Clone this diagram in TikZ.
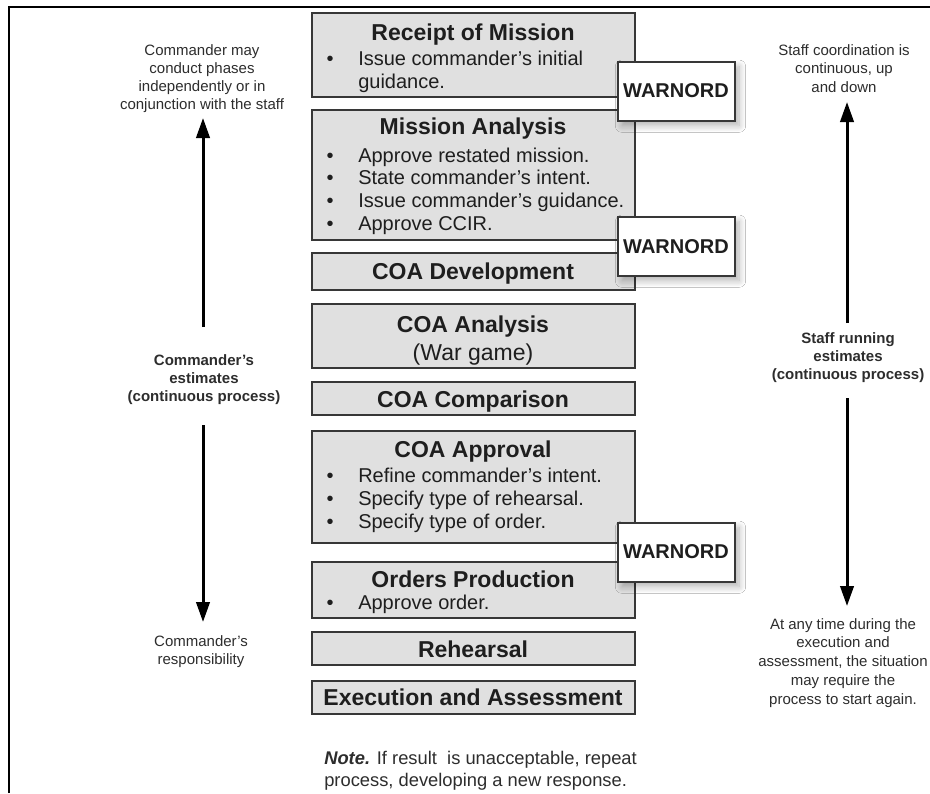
\documentclass[tikz,border=0pt]{standalone}
\usepackage{fontspec}
\setmainfont{Liberation Sans}
\usetikzlibrary{fit,arrows.meta,shadows.blur}
\definecolor{boxfill}{RGB}{224,224,224}
\definecolor{boxline}{RGB}{55,55,55}
\definecolor{txt}{RGB}{30,30,30}
\definecolor{sidetxt}{RGB}{45,45,45}
\begin{document}
\begin{tikzpicture}[x=0.75pt,y=-0.75pt,
  pbox/.style={draw=boxline, line width=1.5pt, fill=boxfill, inner sep=0pt},
  wbox/.style={draw=boxline, line width=1.5pt, fill=white, inner sep=0pt,
    blur shadow={shadow xshift=3pt, shadow yshift=-3.5pt, shadow blur radius=5pt, shadow blur steps=8, shadow opacity=30}},
  ttl/.style={font=\fontsize{17.25}{20}\selectfont\bfseries, text=txt, anchor=base, inner sep=0pt},
  sub/.style={font=\fontsize{17.25}{20}\selectfont, text=txt, anchor=base, inner sep=0pt},
  itm/.style={font=\fontsize{15}{18}\selectfont, text=txt, anchor=base west, inner sep=0pt},
  bul/.style={font=\fontsize{15}{18}\selectfont, text=txt, anchor=base, inner sep=0pt},
  wtxt/.style={font=\fontsize{15}{18}\selectfont\bfseries, text=txt, anchor=base, inner sep=0pt},
  side/.style={font=\fontsize{11.25}{13.9}\selectfont, text=sidetxt, anchor=base, inner sep=0pt},
  sideb/.style={font=\fontsize{11.25}{13.9}\selectfont\bfseries, text=sidetxt, anchor=base, inner sep=0pt},
  note/.style={font=\fontsize{13.75}{16.5}\selectfont, text=sidetxt, anchor=base west, inner sep=0pt},
  bigarrow/.style={line width=2.25pt, draw=black, -{Triangle[length=15pt,width=10pt]}}]
\useasboundingbox (0,0) rectangle (930,793);
\fill[white] (0,0) rectangle (930,793);
% frame
\draw[line width=1.8pt, line join=miter] (9,793) -- (9,7) -- (930,7);

% process boxes
\node[pbox, fit={(312,13) (635,97)}] (rec) {};
\node[pbox, fit={(312,110) (635,240)}] (man) {};
\node[pbox, fit={(312,253) (635,290)}] (dev) {};
\node[pbox, fit={(312,304) (635,368)}] (ana) {};
\node[pbox, fit={(312,382) (635,415)}] (cmp) {};
\node[pbox, fit={(312,431) (635,543)}] (apr) {};
\node[pbox, fit={(312,562) (635,618)}] (ord) {};
\node[pbox, fit={(312,632) (635,665)}] (reh) {};
\node[pbox, fit={(312,681) (635,714)}] (exe) {};

% WARNORD boxes
\node[wbox, fit={(618,62) (735,121)}] (w1) {};
\node[wbox, fit={(618,217) (735,276)}] (w2) {};
\node[wbox, fit={(618,523) (735,582)}] (w3) {};
\node[wtxt] (w1t) at (676,97) {WARNORD};
\node[wtxt] (w2t) at (676,253) {WARNORD};
\node[wtxt] (w3t) at (676,558) {WARNORD};

% Receipt of Mission
\node[ttl] (recT) at (473,40) {Receipt of Mission};
\node[bul] (recB1) at (330,65) {•};
\node[itm] (recI1) at (358,65) {Issue commander’s initial};
\node[itm] (recI2) at (358,88) {guidance.};

% Mission Analysis
\node[ttl] (manT) at (473,134) {Mission Analysis};
\foreach \t [count=\i] in {Approve restated mission., State commander’s intent., Issue commander’s guidance., Approve CCIR.}{
  \node[bul] (manB\i) at (330,{162+22.7*(\i-1)}) {•};
  \node[itm] (manI\i) at (358,{162+22.7*(\i-1)}) {\t};
}

% COA boxes
\node[ttl] (devT) at (473,279) {COA Development};
\node[ttl] (anaT) at (473,332) {COA Analysis};
\node[sub] (anaS) at (473,360) {(War game)};
\node[ttl] (cmpT) at (473,407) {COA Comparison};
\node[ttl] (aprT) at (473,457) {COA Approval};
\foreach \t [count=\i] in {Refine commander’s intent., Specify type of rehearsal., Specify type of order.}{
  \node[bul] (aprB\i) at (330,{482+23*(\i-1)}) {•};
  \node[itm] (aprI\i) at (358,{482+23*(\i-1)}) {\t};
}
\node[ttl] (ordT) at (473,587) {Orders Production};
\node[bul] (ordB1) at (330,609) {•};
\node[itm] (ordI1) at (358,609) {Approve order.};
\node[ttl] (rehT) at (473,657) {Rehearsal};
\node[ttl] (exeT) at (473,705) {Execution and Assessment};

% Note
\node[note] (note1) at (324,764) {\textbf{\textit{Note.}} If result\ \ is unacceptable, repeat};
\node[note] (note2) at (324,786) {process, developing a new response.};

% left side texts
\foreach \t [count=\i] in {Commander may, conduct phases, independently or in, conjunction with the staff}{
  \node[side] (tl\i) at (202,{55+18*(\i-1)}) {\t};
}
\foreach \t [count=\i] in {Commander’s, estimates, (continuous process)}{
  \node[sideb] (ce\i) at (204,{365+18*(\i-1)}) {\t};
}
\node[side] (cr1) at (201,646) {Commander’s};
\node[side] (cr2) at (201,664) {responsibility};

% right side texts
\node[side] (sc1) at (844,55) {Staff coordination is};
\node[side] (sc2) at (844,73.5) {continuous, up};
\node[side] (sc3) at (844,92) {and down};
\foreach \t [count=\i] in {Staff running, estimates, (continuous process)}{
  \node[sideb] (sr\i) at (848,{343+18*(\i-1)}) {\t};
}
\node[side] (at1) at (843,629) {At any time during the};
\node[side] (at2) at (843,647) {execution and};
\node[side] (at3) at (843,666) {assessment, the situation};
\node[side] (at4) at (843,685) {may require the};
\node[side] (at5) at (843,704) {process to start again.};

% arrows
\coordinate (la1) at (203,327);
\coordinate (la2) at (203,118);
\coordinate (lb1) at (203,425);
\coordinate (lb2) at (203,622);
\coordinate (ra1) at (847,323);
\coordinate (ra2) at (847,102);
\coordinate (rb1) at (847,398);
\coordinate (rb2) at (847,606);
\draw[bigarrow] (la1) -- (la2);
\draw[bigarrow] (lb1) -- (lb2);
\draw[bigarrow] (ra1) -- (ra2);
\draw[bigarrow] (rb1) -- (rb2);
\end{tikzpicture}
\end{document}
